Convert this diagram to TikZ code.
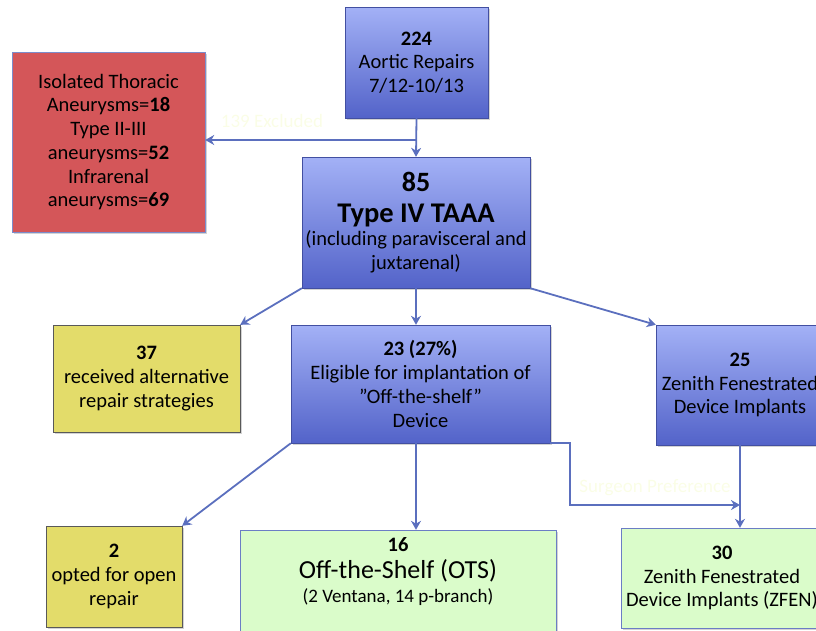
\documentclass[tikz,border=0pt]{standalone}
\usepackage{fontspec}
\setmainfont{Carlito}
\usetikzlibrary{arrows.meta,shadows}

\definecolor{flowblue}{HTML}{5B6FBE}
\definecolor{boxtop}{HTML}{A3B1F6}
\definecolor{boxbottom}{HTML}{5363C9}
\definecolor{exclred}{HTML}{D45659}
\definecolor{altyellow}{HTML}{E3DC6A}
\definecolor{okgreen}{HTML}{DAFCCA}
\definecolor{faint}{HTML}{FAFDE6}

\tikzset{
  basebox/.style={rectangle, inner sep=0pt, align=center, drop shadow={shadow xshift=2pt, shadow yshift=-2pt, opacity=0.35}},
  bluebox/.style={basebox, draw=boxbottom!80!black, top color=boxtop, bottom color=boxbottom},
  redbox/.style={basebox, draw=flowblue!80, fill=exclred},
  yellowbox/.style={basebox, draw=black!65, fill=altyellow},
  greenbox/.style={basebox, draw=flowblue!90, fill=okgreen},
  flow/.style={draw=flowblue, line width=1.8pt, -{Stealth[length=9pt,width=10pt]}},
  faintlabel/.style={text=faint, font=\fontsize{19}{22}\selectfont}
}

\begin{document}
\begin{tikzpicture}[x=1pt, y=-1pt, font=\fontsize{20.5}{23.7}\selectfont]
\useasboundingbox (0,0) rectangle (816,630);
\clip (0,0) rectangle (816,630);
	% boxes
	\node[bluebox, minimum width=143pt, minimum height=111pt] (repairs) at (416.5,62.5)
	  {\textbf{224}\\Aortic Repairs\\7/12-10/13};
	\node[redbox, minimum width=193pt, minimum height=180pt] (excluded) at (108.5,142)
	  {Isolated Thoracic\\Aneurysms=\textbf{18}\\Type II-III\\aneurysms=\textbf{52}\\Infrarenal\\aneurysms=\textbf{69}};
	\node[bluebox, minimum width=228pt, minimum height=131pt] (taaa) at (416,222.5)
	  {\fontsize{28}{33}\selectfont\textbf{85}\\[7pt]\fontsize{28.5}{31}\selectfont\textbf{Type IV TAAA}\\\fontsize{20.5}{25}\selectfont(including paravisceral and\\juxtarenal)};
	\node[yellowbox, minimum width=187pt, minimum height=107pt] (alternative) at (146.5,378.5)
	  {\textbf{37}\\received alternative\\repair strategies};
	\node[bluebox, minimum width=259pt, minimum height=118pt] (eligible) at (420.5,384)
	  {\textbf{23 (27\%)}\\Eligible for implantation of\\\symbol{34}Off-the-shelf\symbol{34}\\Device};
	\node[bluebox, minimum width=168pt, minimum height=120pt] (zenith) at (740,385)
	  {\textbf{25}\\Zenith Fenestrated\\Device Implants};
	\node[yellowbox, minimum width=136pt, minimum height=101pt] (open) at (114,576.5)
	  {\textbf{2}\\opted for open\\repair};
	\node[greenbox, minimum width=316pt, minimum height=104pt] (ots) at (398,582)
	  {\textbf{16}\\[3pt]\fontsize{26}{29}\selectfont Off-the-Shelf (OTS)\\\fontsize{19}{24}\selectfont(2 Ventana, 14 p-branch)\\\mbox{}};
	\node[greenbox, minimum width=202pt, minimum height=100pt] (zfen) at (722,578)
	  {\textbf{30}\\Zenith Fenestrated\\Device Implants (ZFEN)};
	% connectors
	\coordinate (split) at (416.5,140);
	\coordinate (bend) at (570,505);
	\draw[flow] (repairs.south) -- (taaa.north);
	\draw[flow] (split) -- (split -| excluded.east);
	\node[faintlabel] (exclabel) at (272,121) {139 Excluded};
	\draw[flow] (taaa.south west) -- (alternative.north east);
	\draw[flow] (taaa.south) -- (taaa.south |- eligible.north);
	\draw[flow] (taaa.south east) -- (zenith.north west);
	\draw[flow] (eligible.south west) -- (open.north east);
	\draw[flow] (eligible.south -| taaa.south) -- (taaa.south |- ots.north);
	\draw[flow] (eligible.south east) -| (bend) -- (bend -| zenith.south);
	\node[faintlabel] (preflabel) at (655,488) {Surgeon Preference};
	\draw[flow] (zenith.south) -- (zenith.south |- zfen.north);
\end{tikzpicture}
\end{document}
